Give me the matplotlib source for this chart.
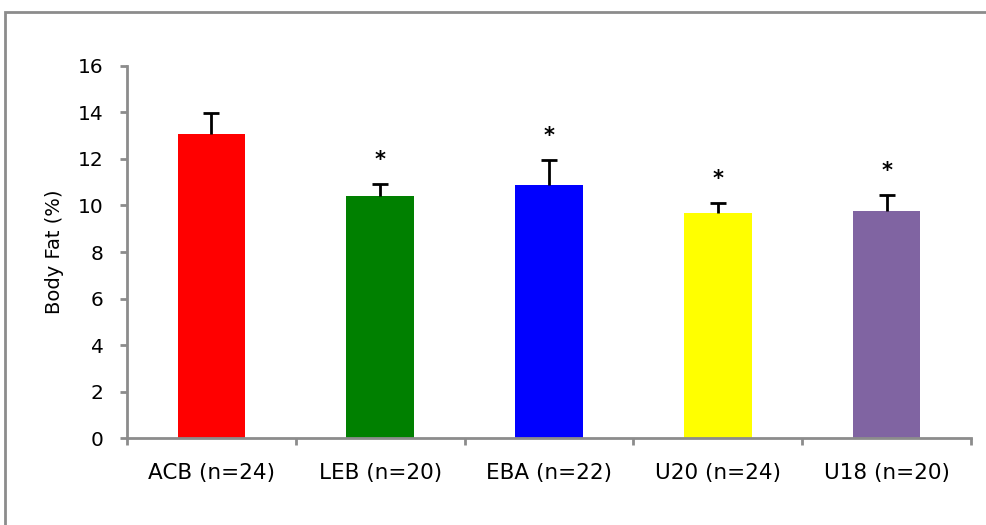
import matplotlib.pyplot as plt
from matplotlib.patches import Rectangle

# Data
groups = ["ACB (n=24)", "LEB (n=20)", "EBA (n=22)", "U20 (n=24)", "U18 (n=20)"]
body_fat = [13.07, 10.43, 10.90, 9.66, 9.78]
sd_upper = [0.89, 0.48, 1.07, 0.45, 0.69]
significant = [False, True, True, True, True]
bar_colors = ["#FF0000", "#008000", "#0000FF", "#FFFF00", "#8064A2"]

plt.rcParams['font.family'] = ['DejaVu Sans']

fig = plt.figure(figsize=(9.86, 5.25), dpi=100)
ax = fig.add_axes([0.1288, 0.1657, 0.856, 0.7086])

# grey frame around the chart area (cut off at right/bottom like the original)
fig.patches.append(Rectangle((5 / 986, -0.05), 1.1, 1 - 12 / 525 + 0.05,
                             transform=fig.transFigure, fill=False,
                             edgecolor="#8c8c8c", linewidth=2))

x = list(range(len(groups)))
ax.bar(x, body_fat, width=0.4, color=bar_colors, zorder=2)
_, caps, _ = ax.errorbar(x, body_fat, yerr=[[0] * len(x), sd_upper], fmt="none",
                         ecolor="black", elinewidth=2, capsize=5.5, capthick=2,
                         zorder=3)
caps[0].set_visible(False)  # only the upper cap

# asterisks for significant differences
for xi, m, e, sig in zip(x, body_fat, sd_upper, significant):
    if sig:
        ax.text(xi, m + e + 0.6, "*", ha="center", va="bottom",
                fontsize=15, fontweight="bold")

ax.set_xlim(-0.5, len(groups) - 0.5)
ax.set_ylim(0, 16)
ax.set_yticks(range(0, 17, 2))
ax.set_xticks(x)
ax.set_xticklabels(groups, fontsize=15.5)
ax.set_xticks([i - 0.5 for i in range(len(groups) + 1)], minor=True)
ax.tick_params(axis="x", which="major", length=0, pad=18)
ax.tick_params(axis="x", which="minor", length=5, width=2, color="#8c8c8c")
ax.tick_params(axis="y", length=5, width=2, color="#8c8c8c", labelsize=14.5, pad=12)
ax.set_ylabel("Body Fat (%)", fontsize=14, labelpad=10)

for side in ("top", "right"):
    ax.spines[side].set_visible(False)
for side in ("left", "bottom"):
    ax.spines[side].set_color("#8c8c8c")
    ax.spines[side].set_linewidth(2)

fig.savefig("out.png", dpi=100)
